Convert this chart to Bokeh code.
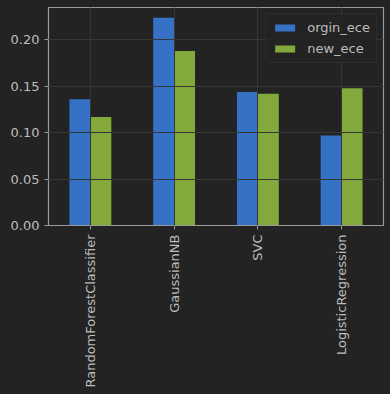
import math
import numpy as np
from bokeh.plotting import figure
from bokeh.models import FixedTicker, NumeralTickFormatter, Range1d, Legend, LegendItem
from bokeh.embed import file_html
from bokeh.resources import INLINE

categories = ["RandomForestClassifier", "GaussianNB", "SVC", "LogisticRegression"]
orgin_ece = [0.136, 0.224, 0.144, 0.097]
new_ece = [0.117, 0.188, 0.142, 0.148]
y_ticks = [0.0, 0.05, 0.10, 0.15, 0.20]

BG = "#232323"
FG = "#bdbdbd"
FRAME = "#9a9a9a"
GRID = "#363636"
BLUE = "#3572c6"
GREEN = "#83a83b"

idx = np.arange(len(categories))

p = figure(width=390, height=394, output_backend="svg", toolbar_location=None,
           x_range=Range1d(-0.5, len(categories) - 0.5), y_range=Range1d(0, 0.235),
           background_fill_color=BG, border_fill_color=BG,
           min_border_left=48, min_border_right=7, min_border_top=7, min_border_bottom=169)

r1 = p.vbar(x=idx - 0.125, top=orgin_ece, width=0.25, fill_color=BLUE, line_color=None)
r2 = p.vbar(x=idx + 0.125, top=new_ece, width=0.25, fill_color=GREEN, line_color=None)

p.outline_line_color = FRAME
p.outline_line_width = 1.2

for ax in (p.xaxis, p.yaxis):
    ax.axis_line_color = FRAME
    ax.major_tick_line_color = FRAME
    ax.major_tick_in = 0
    ax.major_tick_out = 4
    ax.minor_tick_line_color = None
    ax.major_label_text_color = FG
    ax.major_label_text_font = "DejaVu Sans"
    ax.major_label_text_font_size = "13px"

p.xaxis.ticker = FixedTicker(ticks=list(idx))
p.xaxis.major_label_overrides = {int(i): c for i, c in zip(idx, categories)}
p.xaxis.major_label_orientation = math.pi / 2
p.yaxis.ticker = FixedTicker(ticks=y_ticks)
p.yaxis.formatter = NumeralTickFormatter(format="0.00")

p.xgrid.grid_line_color = GRID
p.ygrid.grid_line_color = GRID
p.xgrid.level = "annotation"
p.ygrid.level = "annotation"
p.xgrid.ticker = FixedTicker(ticks=list(idx))
p.ygrid.ticker = FixedTicker(ticks=y_ticks)

legend = Legend(items=[LegendItem(label="orgin_ece", renderers=[r1]),
                       LegendItem(label="new_ece", renderers=[r2])],
                location="top_right")
legend.background_fill_color = BG
legend.background_fill_alpha = 0.8
legend.border_line_color = "#3c3c3c"
legend.border_radius = 4
legend.label_text_color = FG
legend.label_text_font = "DejaVu Sans"
legend.label_text_font_size = "13px"
legend.glyph_width = 25
legend.glyph_height = 9
legend.spacing = 6
legend.padding = 6
legend.margin = 6
legend.label_standoff = 10
p.add_layout(legend)

html = file_html(p, INLINE)
html = html.replace("</head>", "<style>html, body { background: #232323; }</style></head>", 1)
open("out.html", "w").write(html)
